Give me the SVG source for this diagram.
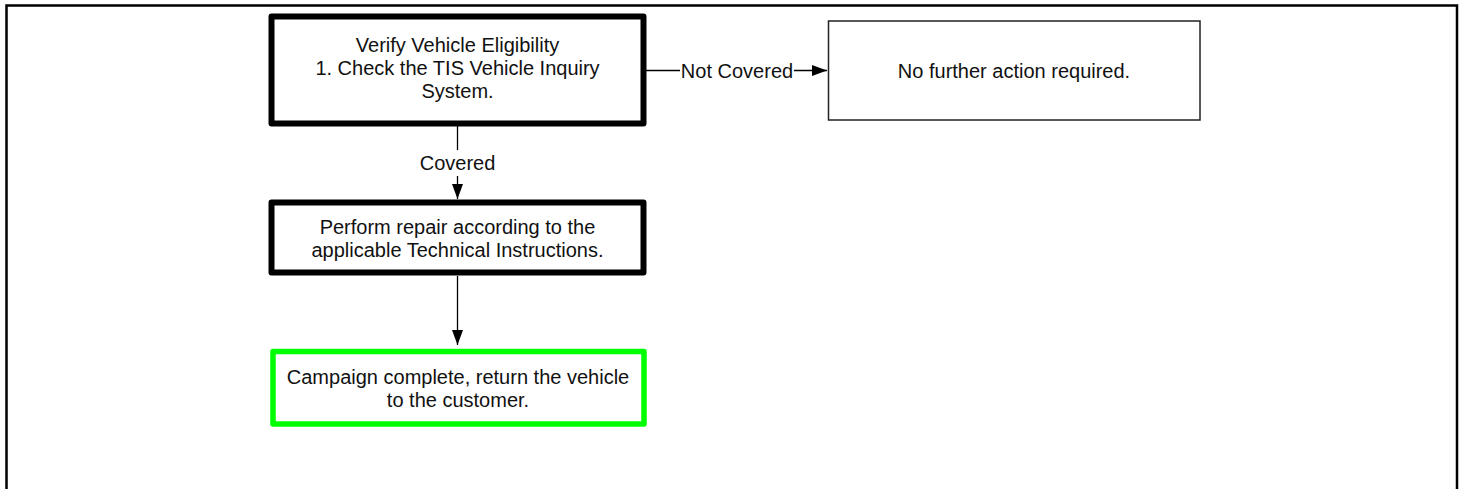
<svg xmlns="http://www.w3.org/2000/svg" width="1465" height="489" viewBox="0 0 1465 489">
<style>
  text { font-family: "Liberation Sans", Arial, sans-serif; font-size: 20px; fill: #111; text-anchor: middle; }
  .thick { fill: #fff; stroke: #000; stroke-width: 6; stroke-linejoin: round; }
  .thin { fill: #fff; stroke: #222; stroke-width: 1.5; }
  .done { fill: #fff; stroke: #00ff00; stroke-width: 5.5; stroke-linejoin: round; }
  .conn { fill: none; stroke: #000; stroke-width: 1.3; }
</style>
<defs>
  <marker id="arrow" viewBox="0 0 15 11" refX="15" refY="5.5" markerWidth="15" markerHeight="11" markerUnits="userSpaceOnUse" orient="auto">
    <path d="M0,0 L15,5.5 L0,11 Z" fill="#000"/>
  </marker>
</defs>
<rect width="1465" height="489" fill="#fff"/>
<path d="M6.5,489 V5.5 H1457 V489" fill="none" stroke="#000" stroke-width="2.5"/>

<g id="connectors">
  <line class="conn" x1="646" y1="70.5" x2="680" y2="70.5"/>
  <line class="conn" x1="794" y1="70.5" x2="827" y2="70.5" marker-end="url(#arrow)"/>
  <text x="737" y="77.5">Not Covered</text>
  <line class="conn" x1="457.5" y1="126" x2="457.5" y2="150"/>
  <line class="conn" x1="457.5" y1="176" x2="457.5" y2="199" marker-end="url(#arrow)"/>
  <text x="457.5" y="170">Covered</text>
  <line class="conn" x1="457.5" y1="276" x2="457.5" y2="345" marker-end="url(#arrow)"/>
</g>

<g id="verify">
  <rect class="thick" x="271.5" y="16.5" width="372" height="107"/>
  <text x="457.5" y="51.5">Verify Vehicle Eligibility</text>
  <text x="457.5" y="74.5">1. Check the TIS Vehicle Inquiry</text>
  <text x="457.5" y="97.5">System.</text>
</g>

<g id="no-action">
  <rect class="thin" x="828.5" y="21" width="371.5" height="99"/>
  <text x="1014" y="77.5">No further action required.</text>
</g>

<g id="repair">
  <rect class="thick" x="271.5" y="202.5" width="372" height="70"/>
  <text x="457.5" y="233.5">Perform repair according to the</text>
  <text x="457.5" y="256.5">applicable Technical Instructions.</text>
</g>

<g id="complete">
  <rect class="done" x="273" y="351.5" width="371" height="72.5"/>
  <text x="458" y="383.5">Campaign complete, return the vehicle</text>
  <text x="458" y="407">to the customer.</text>
</g>
</svg>
